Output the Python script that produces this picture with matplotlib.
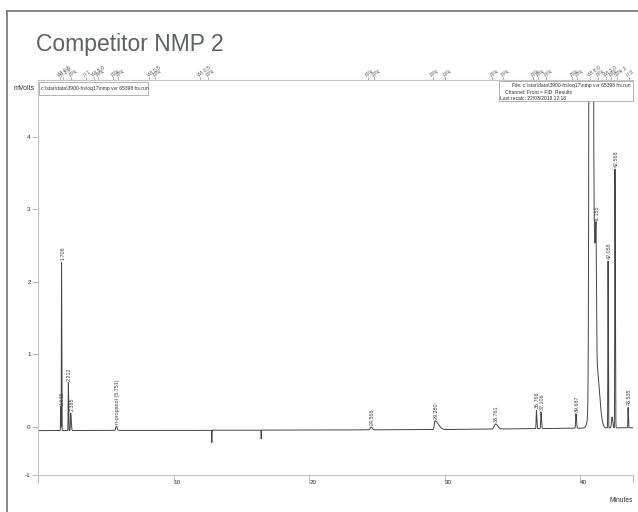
import numpy as np
import matplotlib
matplotlib.use("Agg")
import matplotlib.pyplot as plt
from matplotlib.patches import Rectangle
from matplotlib.lines import Line2D

plt.rcParams['font.family'] = ['Liberation Sans', 'DejaVu Sans']

# ---------------- data ----------------
title = "Competitor NMP 2"
x_min, x_max = 0.0, 43.9
y_min, y_max = -0.662, 4.786
x_ticks = [0, 10, 20, 30, 40, 43.9]
x_tick_labels = ["", "10", "20", "30", "40", ""]
y_ticks = [y_min, 0, 1, 2, 3, 4]
y_tick_labels = ["-1", "0", "1", "2", "3", "4"]

# baseline drift (mV)
baseline_t = [0.0, 10.0, 20.0, 30.0, 38.0, 43.9]
baseline_v = [-0.05, -0.045, -0.042, -0.035, -0.02, -0.01]

# peaks: retention time, height above baseline (mV), left/right width (min)
peak_t  = [1.645, 1.708, 2.212, 2.385, 5.751, 24.566, 29.280, 33.761,
           36.768, 37.106, 39.687, 40.790, 40.950, 41.155, 41.220,
           42.058, 42.350, 42.568, 43.535]
peak_h  = [0.33, 2.32, 0.66, 0.24, 0.06, 0.04, 0.12, 0.07,
           0.25, 0.23, 0.20, 60.0, 0.40, 2.40, 0.85,
           2.30, 0.15, 3.57, 0.28]
peak_sl = [0.012, 0.012, 0.015, 0.02, 0.04, 0.06, 0.05, 0.10,
           0.02, 0.02, 0.025, 0.067, 0.15, 0.25, 0.05,
           0.015, 0.04, 0.015, 0.015]
peak_sr = [0.012, 0.015, 0.02, 0.04, 0.06, 0.08, 0.25, 0.15,
           0.03, 0.04, 0.04, 0.080, 0.10, 0.04, 0.20,
           0.02, 0.05, 0.025, 0.025]

# negative spikes (valve/pressure events)
spike_t = [12.8, 16.45]
spike_h = [-0.17, -0.12]

# labelled peaks
label_t = [1.645, 1.708, 2.212, 2.385, 5.751, 24.566, 29.280, 33.761,
           36.768, 37.106, 39.687, 41.155, 42.058, 42.568, 43.535]
label_text = ["1.645", "1.708", "2.212", "2.385", "n-propanol (5.751)",
              "24.566", "29.280", "33.761", "36.768", "37.106", "39.687",
              "41.155", "42.058", "42.568", "43.535"]

# integration event markers along the top
event_t = [1.6, 1.8, 2.4, 3.5, 4.1, 4.4, 5.5, 5.9, 8.2, 8.6, 11.9, 12.5,
           24.3, 24.8, 29.1, 30.0, 33.5, 34.3, 36.5, 36.9, 37.5, 39.4, 39.8,
           40.7, 41.3, 41.9, 42.3, 42.7, 43.6]
event_text = ["WI 0.5", "II 2.0", "FPk", "II 1", "WI 5.0", "FPk", "FPk", "FPk",
              "WI 0.5", "FPk", "WI 0.5", "FPk", "FPk", "FPk", "FPk", "FPk",
              "FPk", "FPk", "FPk", "FPk", "FPk", "FPk", "FPk", "WI 6.0",
              "FPk", "WI 2.0", "FPk", "SPk 3", "II 0"]

file_name = r"c:\star\data\3900-hs\oq17\nmp vvr 65398 hs.run"
info_lines = ["File: " + file_name,
              "Channel: Front = FID  Results",
              "Last recalc: 22/03/2018 12:18"]

# ---------------- build trace ----------------
def bigauss(t, c, h, sl, sr):
    s = np.where(t < c, sl, sr)
    return h * np.exp(-0.5 * ((t - c) / s) ** 2)

t = np.linspace(x_min, x_max, 30000)
y = np.interp(t, baseline_t, baseline_v)
for c, h, sl, sr in zip(peak_t, peak_h, peak_sl, peak_sr):
    y = y + bigauss(t, c, h, sl, sr)
for c, h in zip(spike_t, spike_h):
    y = y + bigauss(t, c, h, 0.01, 0.01)

# ---------------- figure ----------------
W, H = 638, 512
fig = plt.figure(figsize=(W / 100, H / 100), dpi=100)
fig.patch.set_facecolor("white")

def fx(px):
    return px / W

def fy(py):
    return 1 - py / H

# page frame
fig.add_artist(Line2D([fx(7), fx(7)], [fy(11), 0], transform=fig.transFigure,
                      color="#7d7d7d", lw=1.3))
fig.add_artist(Line2D([fx(7), 1], [fy(11), fy(11)], transform=fig.transFigure,
                      color="#7d7d7d", lw=1.3))

fig.text(fx(36), fy(51), title, fontsize=16.5, color="#5e6264",
         ha="left", va="baseline")

ax = fig.add_axes([fx(38.4), fy(475), fx(633) - fx(38.4), fy(80) - fy(475)])
ax.plot(t, y, color="#444444", lw=0.7)
ax.set_xlim(x_min, x_max)
ax.set_ylim(y_min, y_max)

for s in ["left", "bottom", "top"]:
    ax.spines[s].set_color("#c4c4c4")
    ax.spines[s].set_linewidth(0.8)
ax.spines["right"].set_visible(False)

ax.set_xticks(x_ticks)
ax.set_xticklabels(x_tick_labels)
ax.set_yticks(y_ticks)
ax.set_yticklabels(y_tick_labels)
ax.tick_params(axis="x", direction="out", length=5.8, width=0.6,
               color="#b0b0b0", labelsize=4.6, labelcolor="#333333", pad=-2.5)
for lbl in ax.get_xticklabels():
    lbl.set_horizontalalignment("left")
ax.tick_params(axis="y", direction="out", length=4.5, width=0.6,
               color="#b0b0b0", labelsize=4.6, labelcolor="#333333", pad=1.0)

# peak labels
for lt, txt in zip(label_t, label_text):
    apex = np.interp(lt, t, y)
    ax.annotate(txt, xy=(lt, apex), xytext=(0.8, 1.5), textcoords="offset points",
                rotation=90, ha="center", va="bottom", fontsize=3.9,
                color="#444444", annotation_clip=False)

# event markers above top line
for et, txt in zip(event_t, event_text):
    ax.plot([et, et], [y_max, y_max + 0.04], color="#777777", lw=0.4,
            clip_on=False)
    ax.annotate(txt, xy=(et, y_max), xytext=(0, 1.5), textcoords="offset points",
                rotation=35, rotation_mode="anchor", ha="left", va="bottom",
                fontsize=3.7, color="#555555", annotation_clip=False)

# axis captions
fig.text(fx(14), fy(88), "mVolts", fontsize=5, color="#333333",
         ha="left", va="center")
fig.text(fx(633), fy(501), "Minutes", fontsize=4.8, color="#333333",
         ha="right", va="center")

# left info box
fig.add_artist(Rectangle((fx(39), fy(95)), fx(148) - fx(39), fy(82) - fy(95),
                         transform=fig.transFigure, facecolor="white",
                         edgecolor="#a8a8a8", lw=0.6))
fig.text(fx(41), fy(88.5), file_name, fontsize=3.6, color="#333333",
         ha="left", va="center")

# right info box
fig.add_artist(Rectangle((fx(499), fy(101)), fx(633) - fx(499), fy(81) - fy(101),
                         transform=fig.transFigure, facecolor="white",
                         edgecolor="#a8a8a8", lw=0.6))
fig.text(fx(631), fy(86), info_lines[0], fontsize=3.6, color="#333333",
         ha="right", va="center")
fig.text(fx(505), fy(92.5), info_lines[1], fontsize=3.6, color="#333333",
         ha="left", va="center")
fig.text(fx(500.5), fy(98.5), info_lines[2], fontsize=3.6, color="#333333",
         ha="left", va="center")

fig.savefig("out.png", dpi=100, facecolor="white")
